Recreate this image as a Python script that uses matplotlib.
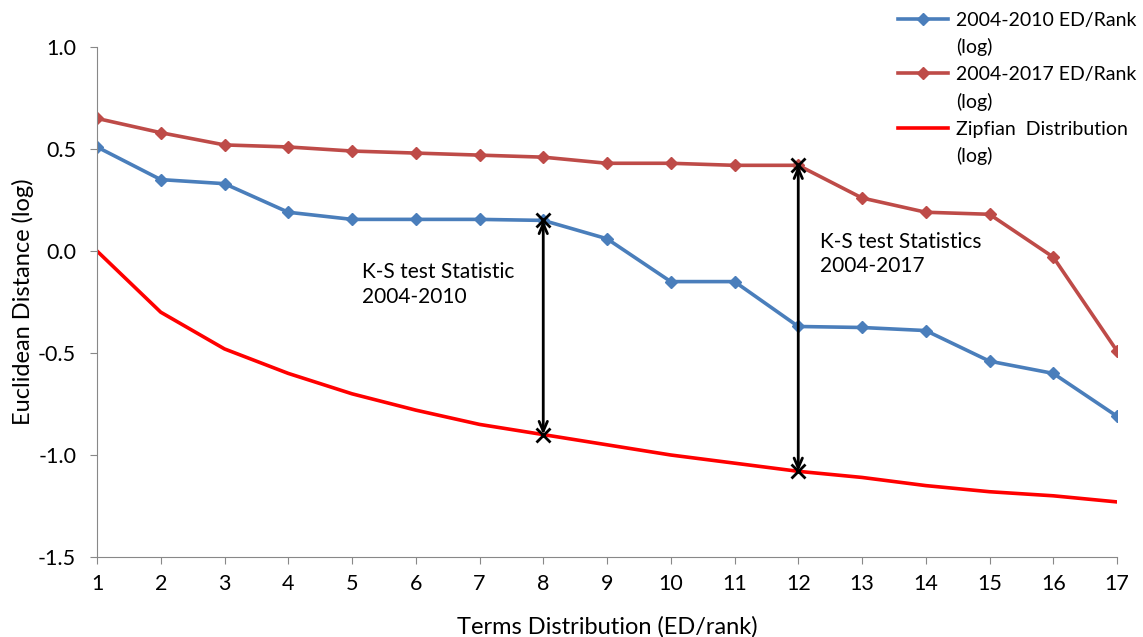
import matplotlib
matplotlib.use("Agg")
import matplotlib.pyplot as plt
from matplotlib.lines import Line2D

plt.rcParams['font.family'] = ['Lato', 'DejaVu Sans']

ranks = list(range(1, 18))
ed_2010 = [0.51, 0.35, 0.33, 0.19, 0.155, 0.155, 0.155, 0.15, 0.06, -0.15, -0.15,
           -0.37, -0.375, -0.39, -0.54, -0.60, -0.81]
ed_2017 = [0.65, 0.58, 0.52, 0.51, 0.49, 0.48, 0.47, 0.46, 0.43, 0.43, 0.42,
           0.42, 0.26, 0.19, 0.18, -0.03, -0.49]
zipf = [0.0, -0.30, -0.48, -0.60, -0.70, -0.78, -0.85, -0.90, -0.95, -1.00, -1.04,
        -1.08, -1.11, -1.15, -1.18, -1.20, -1.23]
series_names = ["2004-2010 ED/Rank", "2004-2017 ED/Rank", "Zipfian  Distribution"]

ks_2010_rank = 8
ks_2017_rank = 12

fig = plt.figure(figsize=(11.43, 6.37), dpi=100)
ax = fig.add_axes([97/1143, 80/637, 1020/1143, 510/637])

l1, = ax.plot(ranks, ed_2010, color="#4A7EBB", lw=2.6, marker="D", ms=6.5)
l2, = ax.plot(ranks, ed_2017, color="#BE4B48", lw=2.6, marker="D", ms=6.5)
l3, = ax.plot(ranks, zipf, color="#FF0000", lw=2.6)

# K-S statistic arrows between each series and the Zipfian curve
for r, series in [(ks_2010_rank, ed_2010), (ks_2017_rank, ed_2017)]:
    top, bot = series[r - 1], zipf[r - 1]
    ax.annotate("", xy=(r, top), xytext=(r, bot),
                arrowprops=dict(arrowstyle="<->,head_length=0.7,head_width=0.3", color="black", lw=2,
                                shrinkA=0, shrinkB=0))
    ax.plot([r, r], [top, bot], ls="none", marker="x", ms=10, mew=2, color="black")

ax.text(5.16, -0.165, "K-S test Statistic\n2004-2010", fontsize=15, va="center", linespacing=1.3)
ax.text(12.34, -0.015, "K-S test Statistics\n2004-2017", fontsize=15, va="center", linespacing=1.3)

ax.set_xlim(1, 17)
ax.set_ylim(-1.5, 1.0)
ax.set_xticks(ranks)
ax.set_yticks([-1.5, -1.0, -0.5, 0.0, 0.5, 1.0])
ax.set_yticklabels(["-1.5", "-1.0", "-0.5", "0.0", "0.5", "1.0"])
ax.tick_params(labelsize=15.5, color="#888888", length=5, direction="out")
ax.tick_params(axis="x", pad=7)
ax.tick_params(axis="y", pad=10)
for s in ["top", "right"]:
    ax.spines[s].set_visible(False)
for s in ["left", "bottom"]:
    ax.spines[s].set_color("#888888")
ax.set_xlabel("Terms Distribution (ED/rank)", fontsize=17, labelpad=16)
ax.set_ylabel("Euclidean Distance (log)", fontsize=17, labelpad=3)

# legend: the "(log)" second line of each entry is its own row with a blank handle
blank = Line2D([], [], ls="none")
handles, labels = [], []
for h, name in zip([l1, l2, l3], series_names):
    handles += [h, blank]
    labels += [name, "(log)"]
fig.legend(handles, labels, loc="upper left", bbox_to_anchor=(886/1143, 1.0), frameon=False,
           fontsize=14, handlelength=2.6, handletextpad=0.4, labelspacing=0.5, borderaxespad=0.2)

fig.savefig("out.png", dpi=100)
